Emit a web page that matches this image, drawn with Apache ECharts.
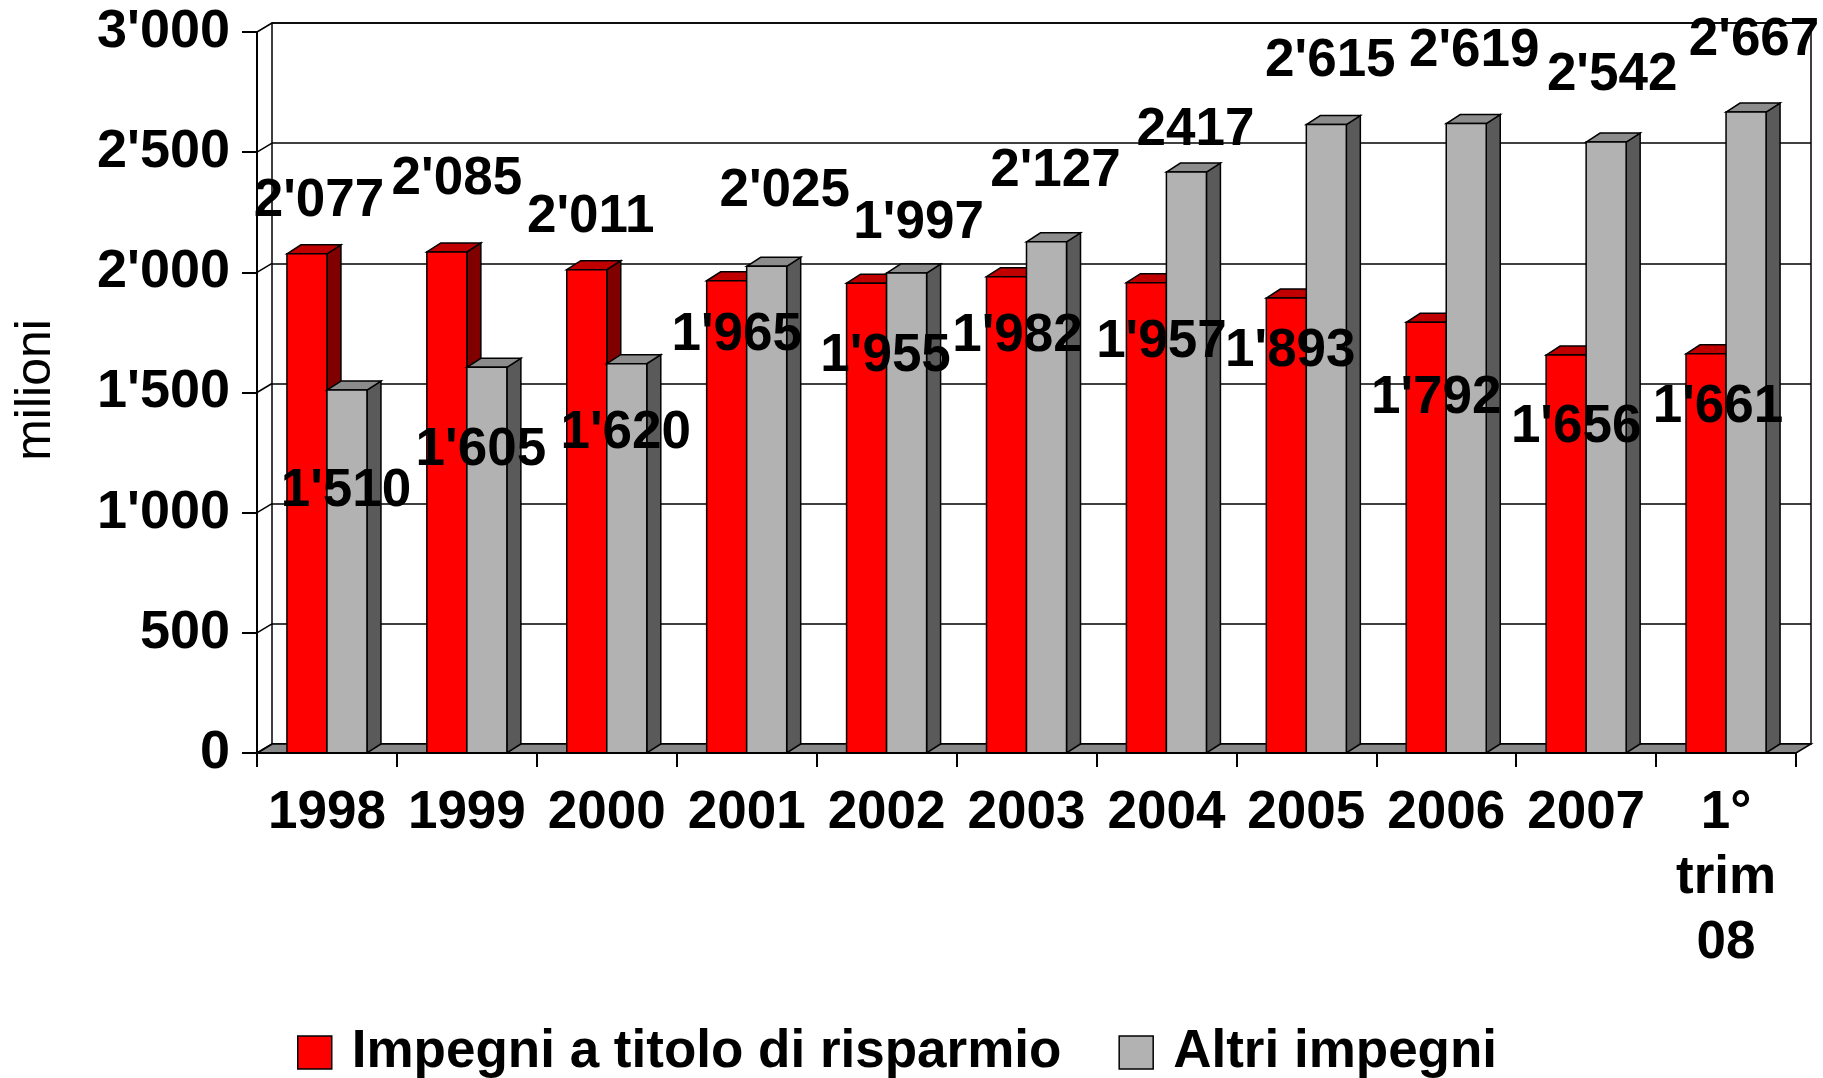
<!DOCTYPE html>
<html>
<head>
<meta charset="utf-8">
<script src="https://cdn.jsdelivr.net/npm/echarts@6/dist/echarts.min.js"></script>
<style>
  html, body { margin: 0; padding: 0; background: #fff; }
  #chart { width: 1823px; height: 1078px; }
</style>
</head>
<body>
<div id="chart"></div>
<script>
// ---- data ----
const categories = ['1998', '1999', '2000', '2001', '2002', '2003', '2004', '2005', '2006', '2007', '1° trim 08'];
const savingsValues = [2077, 2085, 2011, 1965, 1955, 1982, 1957, 1893, 1792, 1656, 1661];
const otherValues = [1510, 1605, 1620, 2025, 1997, 2127, 2417, 2615, 2619, 2542, 2667];
const savingsLabels = ["2'077", "2'085", "2'011", "1'965", "1'955", "1'982", "1'957", "1'893", "1'792", "1'656", "1'661"];
const otherLabels = ["1'510", "1'605", "1'620", "2'025", "1'997", "2'127", "2417", "2'615", "2'619", "2'542", "2'667"];
const yTicks = [0, 500, 1000, 1500, 2000, 2500, 3000];
const seriesNames = ['Impegni a titolo di risparmio', 'Altri impegni'];
const axisTitle = 'milioni';

// ---- layout / style (not data) ----
const savingsLabelShift = [[12,-52],[10,-73],[4,-52],[10,55],[19,73],[11,60],[15,60],[4,53],[10,76],[10,72],[12,54]];
const otherLabelShift = [[-1,101],[-6,83],[-1,70],[18,-75],[12,-50],[9,-70],[9,-42],[4,-63],[8,-72],[6,-67],[8,-72]];
const BAR_RATIO = 0.286;
const BAR_DX = 14, BAR_DY = 9;
const WALL_DX = 15, WALL_DY = 9;
const FONT = '"Liberation Sans", Arial, sans-serif';
const RED = { front: '#FF0000', top: '#C00000', side: '#800000' };
const GREY = { front: '#B2B2B2', top: '#8C8C8C', side: '#5A5A5A' };

function fmtThousands(v) {
  if (v >= 1000) return Math.floor(v / 1000) + "'" + String(v % 1000).padStart(3, '0');
  return String(v);
}

function barRenderer(sideIdx, colors) {
  return function (params, api) {
    const i = api.value(0), v = api.value(1);
    const top = api.coord([i, v]);
    const base = api.coord([i, 0]);
    const band = api.size([1, 0])[0];
    const w = band * BAR_RATIO;
    const x0 = sideIdx === 0 ? top[0] - w : top[0];
    const x1 = x0 + w, yT = top[1], yB = base[1];
    const st = { stroke: '#000', lineWidth: 1.5, lineJoin: 'miter' };
    return {
      type: 'group',
      children: [
        { type: 'polygon', shape: { points: [[x1, yT], [x1 + BAR_DX, yT - BAR_DY], [x1 + BAR_DX, yB - BAR_DY], [x1, yB]] },
          style: Object.assign({ fill: colors.side }, st) },
        { type: 'polygon', shape: { points: [[x0, yT], [x0 + BAR_DX, yT - BAR_DY], [x1 + BAR_DX, yT - BAR_DY], [x1, yT]] },
          style: Object.assign({ fill: colors.top }, st) },
        { type: 'rect', shape: { x: x0, y: yT, width: w, height: yB - yT },
          style: Object.assign({ fill: colors.front }, st) }
      ]
    };
  };
}

function labelRenderer(sideIdx, texts, shifts) {
  return function (params, api) {
    const i = api.value(0), v = api.value(1);
    const top = api.coord([i, v]);
    const band = api.size([1, 0])[0];
    const w = band * BAR_RATIO;
    const cx = sideIdx === 0 ? top[0] - w / 2 : top[0] + w / 2;
    const s = shifts[params.dataIndex];
    return {
      type: 'text',
      style: {
        text: texts[params.dataIndex],
        x: cx + s[0], y: top[1] + s[1],
        textAlign: 'center', textVerticalAlign: 'middle',
        font: 'bold 53px ' + FONT, fill: '#000'
      }
    };
  };
}

const chart = echarts.init(document.getElementById('chart'), null, { renderer: 'canvas' });

chart.setOption({
  animation: false,
  backgroundColor: '#fff',
  grid: [
    { left: 257, right: 27, top: 32, bottom: 325, containLabel: false },
    { left: 272, right: 12, top: 23, bottom: 334, show: true, borderColor: '#000', borderWidth: 1.5, backgroundColor: '#fff', z: 0 }
  ],
  xAxis: [
    {
      gridIndex: 0, type: 'category', data: categories, z: 10,
      axisLine: { lineStyle: { color: '#000', width: 2 } },
      axisTick: { show: true, length: 14, lineStyle: { color: '#000', width: 2 } },
      axisLabel: {
        interval: 0, color: '#000', fontSize: 53, fontWeight: 'bold', fontFamily: FONT,
        lineHeight: 65, margin: 28, formatter: s => s.replace(/ /g, '\n')
      },
      splitLine: { show: false }
    },
    { gridIndex: 1, type: 'category', data: categories, show: false }
  ],
  yAxis: [
    {
      gridIndex: 0, type: 'value', min: 0, max: 3000, interval: 500, z: 10,
      axisLine: { show: true, lineStyle: { color: '#000', width: 2 } },
      axisTick: { show: true, length: 15, lineStyle: { color: '#000', width: 2 } },
      axisLabel: { color: '#000', fontSize: 54, fontWeight: 'bold', fontFamily: FONT, margin: 27, formatter: fmtThousands },
      splitLine: { show: false }
    },
    {
      gridIndex: 1, type: 'value', min: 0, max: 3000, interval: 500,
      axisLine: { show: false }, axisTick: { show: false }, axisLabel: { show: false },
      splitLine: { show: true, lineStyle: { color: '#000', width: 1.5 } }
    }
  ],
  legend: {
    data: seriesNames,
    left: 297, top: 1026, padding: 0,
    itemWidth: 34, itemHeight: 33, itemGap: 57,
    icon: 'rect',
    itemStyle: { borderColor: '#000', borderWidth: 1.5 },
    textStyle: { color: '#000', fontSize: 53, fontWeight: 'bold', fontFamily: FONT, padding: [0, 0, 0, 15] }
  },
  graphic: [
    {
      type: 'text', x: 36, y: 390, rotation: Math.PI / 2,
      style: { text: axisTitle, textAlign: 'center', textVerticalAlign: 'middle', font: '50px ' + FONT, fill: '#000' }
    }
  ],
  series: [
    {
      name: 'floor', type: 'custom', xAxisIndex: 0, yAxisIndex: 0, z: 1, silent: true,
      data: [[0, 0]],
      renderItem: function (params, api) {
        const cs = params.coordSys;
        const yb = cs.y + cs.height;
        return {
          type: 'polygon',
          shape: { points: [[cs.x, yb], [cs.x + cs.width, yb], [cs.x + cs.width + WALL_DX, yb - WALL_DY], [cs.x + WALL_DX, yb - WALL_DY]] },
          style: { fill: '#888888', stroke: '#000', lineWidth: 1.5 }
        };
      }
    },
    {
      name: 'sidewall', type: 'custom', xAxisIndex: 0, yAxisIndex: 0, z: 1, silent: true,
      data: yTicks.map(v => [0, v]),
      renderItem: function (params, api) {
        const p = api.coord([0, api.value(1)]);
        const x = params.coordSys.x;
        return {
          type: 'line',
          shape: { x1: x, y1: p[1], x2: x + WALL_DX, y2: p[1] - WALL_DY },
          style: { stroke: '#000', lineWidth: 1.5 }
        };
      }
    },
    {
      name: seriesNames[0], type: 'custom', xAxisIndex: 0, yAxisIndex: 0, z: 2,
      itemStyle: { color: RED.front },
      data: savingsValues.map((v, i) => [i, v]),
      renderItem: barRenderer(0, RED)
    },
    {
      name: seriesNames[1], type: 'custom', xAxisIndex: 0, yAxisIndex: 0, z: 3,
      itemStyle: { color: GREY.front },
      data: otherValues.map((v, i) => [i, v]),
      renderItem: barRenderer(1, GREY)
    },
    {
      name: 'lblSavings', type: 'custom', xAxisIndex: 0, yAxisIndex: 0, z: 20, silent: true,
      data: savingsValues.map((v, i) => [i, v]),
      renderItem: labelRenderer(0, savingsLabels, savingsLabelShift)
    },
    {
      name: 'lblOther', type: 'custom', xAxisIndex: 0, yAxisIndex: 0, z: 20, silent: true,
      data: otherValues.map((v, i) => [i, v]),
      renderItem: labelRenderer(1, otherLabels, otherLabelShift)
    }
  ]
});
</script>
</body>
</html>
